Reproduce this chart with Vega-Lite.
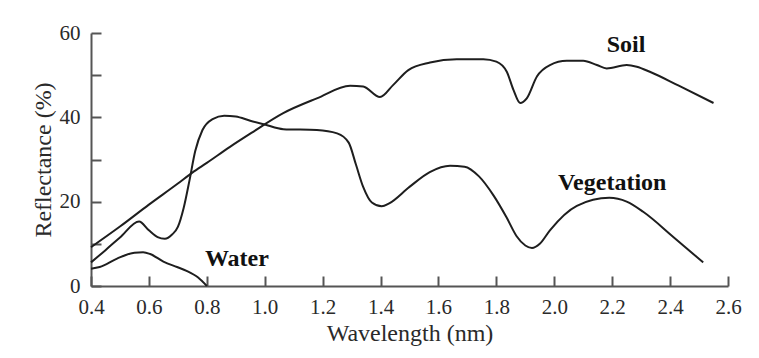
{
  "$schema": "https://vega.github.io/schema/vega-lite/v6.json",
  "width": 637,
  "height": 253,
  "autosize": "none",
  "padding": {"left": 91, "top": 33, "right": 31, "bottom": 72},
  "background": "white",
  "config": {
    "view": {"stroke": null},
    "font": "Liberation Serif"
  },
  "datasets": {
    "curves": [
      {"series": "Soil", "w": 0.40, "r": 9.2},
      {"series": "Soil", "w": 0.50, "r": 14.1},
      {"series": "Soil", "w": 0.60, "r": 19.3},
      {"series": "Soil", "w": 0.70, "r": 24.3},
      {"series": "Soil", "w": 0.75, "r": 26.9},
      {"series": "Soil", "w": 0.80, "r": 29.2},
      {"series": "Soil", "w": 0.88, "r": 33.0},
      {"series": "Soil", "w": 0.954, "r": 36.3},
      {"series": "Soil", "w": 1.064, "r": 41.0},
      {"series": "Soil", "w": 1.18, "r": 44.5},
      {"series": "Soil", "w": 1.295, "r": 47.5},
      {"series": "Soil", "w": 1.34, "r": 47.3},
      {"series": "Soil", "w": 1.398, "r": 44.8},
      {"series": "Soil", "w": 1.444, "r": 47.7},
      {"series": "Soil", "w": 1.496, "r": 51.2},
      {"series": "Soil", "w": 1.571, "r": 53.0},
      {"series": "Soil", "w": 1.663, "r": 53.8},
      {"series": "Soil", "w": 1.755, "r": 53.8},
      {"series": "Soil", "w": 1.80, "r": 53.2},
      {"series": "Soil", "w": 1.836, "r": 50.8},
      {"series": "Soil", "w": 1.859, "r": 46.5},
      {"series": "Soil", "w": 1.882, "r": 43.4},
      {"series": "Soil", "w": 1.905, "r": 44.5},
      {"series": "Soil", "w": 1.94, "r": 49.7},
      {"series": "Soil", "w": 1.985, "r": 52.4},
      {"series": "Soil", "w": 2.043, "r": 53.4},
      {"series": "Soil", "w": 2.10, "r": 53.4},
      {"series": "Soil", "w": 2.147, "r": 52.4},
      {"series": "Soil", "w": 2.181, "r": 51.6},
      {"series": "Soil", "w": 2.25, "r": 52.4},
      {"series": "Soil", "w": 2.285, "r": 52.0},
      {"series": "Soil", "w": 2.33, "r": 50.8},
      {"series": "Soil", "w": 2.43, "r": 47.5},
      {"series": "Soil", "w": 2.55, "r": 43.4},
      {"series": "Vegetation", "w": 0.40, "r": 5.6},
      {"series": "Vegetation", "w": 0.45, "r": 8.5},
      {"series": "Vegetation", "w": 0.50, "r": 11.5},
      {"series": "Vegetation", "w": 0.566, "r": 15.3},
      {"series": "Vegetation", "w": 0.60, "r": 13.2},
      {"series": "Vegetation", "w": 0.63, "r": 11.6},
      {"series": "Vegetation", "w": 0.655, "r": 11.2},
      {"series": "Vegetation", "w": 0.68, "r": 12.2},
      {"series": "Vegetation", "w": 0.70, "r": 14.0},
      {"series": "Vegetation", "w": 0.72, "r": 18.5},
      {"series": "Vegetation", "w": 0.74, "r": 25.0},
      {"series": "Vegetation", "w": 0.76, "r": 32.0},
      {"series": "Vegetation", "w": 0.785, "r": 37.0},
      {"series": "Vegetation", "w": 0.82, "r": 39.6},
      {"series": "Vegetation", "w": 0.86, "r": 40.4},
      {"series": "Vegetation", "w": 0.90, "r": 40.2},
      {"series": "Vegetation", "w": 0.95, "r": 39.2},
      {"series": "Vegetation", "w": 1.00, "r": 38.3},
      {"series": "Vegetation", "w": 1.064, "r": 37.2},
      {"series": "Vegetation", "w": 1.18, "r": 37.0},
      {"series": "Vegetation", "w": 1.25, "r": 36.2},
      {"series": "Vegetation", "w": 1.29, "r": 34.0},
      {"series": "Vegetation", "w": 1.315, "r": 28.8},
      {"series": "Vegetation", "w": 1.34, "r": 23.5},
      {"series": "Vegetation", "w": 1.37, "r": 19.8},
      {"series": "Vegetation", "w": 1.404, "r": 18.9},
      {"series": "Vegetation", "w": 1.43, "r": 19.6},
      {"series": "Vegetation", "w": 1.50, "r": 23.5},
      {"series": "Vegetation", "w": 1.57, "r": 27.0},
      {"series": "Vegetation", "w": 1.64, "r": 28.5},
      {"series": "Vegetation", "w": 1.69, "r": 28.3},
      {"series": "Vegetation", "w": 1.74, "r": 26.0},
      {"series": "Vegetation", "w": 1.79, "r": 21.5},
      {"series": "Vegetation", "w": 1.835, "r": 16.3},
      {"series": "Vegetation", "w": 1.87, "r": 11.8},
      {"series": "Vegetation", "w": 1.90, "r": 9.6},
      {"series": "Vegetation", "w": 1.923, "r": 9.0},
      {"series": "Vegetation", "w": 1.95, "r": 10.0},
      {"series": "Vegetation", "w": 1.985, "r": 13.2},
      {"series": "Vegetation", "w": 2.078, "r": 19.0},
      {"series": "Vegetation", "w": 2.19, "r": 20.9},
      {"series": "Vegetation", "w": 2.25, "r": 20.0},
      {"series": "Vegetation", "w": 2.307, "r": 17.6},
      {"series": "Vegetation", "w": 2.41, "r": 11.7},
      {"series": "Vegetation", "w": 2.514, "r": 5.6},
      {"series": "Water", "w": 0.40, "r": 4.1},
      {"series": "Water", "w": 0.43, "r": 4.5},
      {"series": "Water", "w": 0.49, "r": 6.5},
      {"series": "Water", "w": 0.55, "r": 7.9},
      {"series": "Water", "w": 0.58, "r": 8.0},
      {"series": "Water", "w": 0.604, "r": 7.6},
      {"series": "Water", "w": 0.65, "r": 5.8},
      {"series": "Water", "w": 0.697, "r": 4.5},
      {"series": "Water", "w": 0.73, "r": 3.6},
      {"series": "Water", "w": 0.77, "r": 2.0},
      {"series": "Water", "w": 0.80, "r": 0.0}
    ],
    "labels": [
      {"label": "Soil", "w": 2.248, "r": 57.2},
      {"label": "Vegetation", "w": 2.20, "r": 24.5},
      {"label": "Water", "w": 0.904, "r": 6.3}
    ]
  },
  "layer": [
    {
      "data": {"name": "curves"},
      "mark": {"type": "line", "interpolate": "monotone", "strokeWidth": 2, "color": "#1e1e1e"},
      "encoding": {
        "x": {
          "field": "w", "type": "quantitative",
          "scale": {"domain": [0.4, 2.6], "nice": false, "zero": false},
          "axis": {
            "title": "Wavelength (nm)",
            "values": [0.4, 0.5, 0.6, 0.7, 0.8, 0.9, 1.0, 1.1, 1.2, 1.3, 1.4, 1.5, 1.6, 1.7, 1.8, 1.9, 2.0, 2.1, 2.2, 2.3, 2.4, 2.5, 2.6],
            "labelExpr": "round(datum.value*10) % 2 == 0 ? format(datum.value, '.1f') : ''",
            "grid": false,
            "tickSize": -10,
            "tickWidth": 2,
            "tickColor": "#555",
            "domainColor": "#555",
            "domainWidth": 2,
            "labelFont": "Liberation Serif",
            "labelFontSize": 21,
            "labelColor": "#2a2a2a",
            "labelPadding": 20,
            "labelFlush": false,
            "labelOverlap": false,
            "titleFont": "Liberation Serif",
            "titleFontSize": 24,
            "titleFontWeight": "normal",
            "titleColor": "#2a2a2a",
            "titlePadding": 4
          }
        },
        "y": {
          "field": "r", "type": "quantitative",
          "scale": {"domain": [0, 60], "nice": false},
          "axis": {
            "title": "Reflectance (%)",
            "values": [0, 10, 20, 30, 40, 50, 60],
            "labelExpr": "datum.value % 20 == 0 ? format(datum.value, 'd') : ''",
            "grid": false,
            "tickSize": -10,
            "tickWidth": 2,
            "tickColor": "#555",
            "domainColor": "#555",
            "domainWidth": 2,
            "labelFont": "Liberation Serif",
            "labelFontSize": 21,
            "labelColor": "#2a2a2a",
            "labelPadding": 21,
            "labelFlush": false,
            "labelOverlap": false,
            "titleFont": "Liberation Serif",
            "titleFontSize": 24,
            "titleFontWeight": "normal",
            "titleColor": "#2a2a2a",
            "titlePadding": 4
          }
        },
        "detail": {"field": "series"}
      }
    },
    {
      "data": {"name": "labels"},
      "mark": {"type": "text", "font": "Liberation Serif", "fontWeight": "bold", "fontSize": 24, "color": "#111", "align": "center", "baseline": "middle"},
      "encoding": {
        "x": {"field": "w", "type": "quantitative"},
        "y": {"field": "r", "type": "quantitative"},
        "text": {"field": "label"}
      }
    }
  ]
}
